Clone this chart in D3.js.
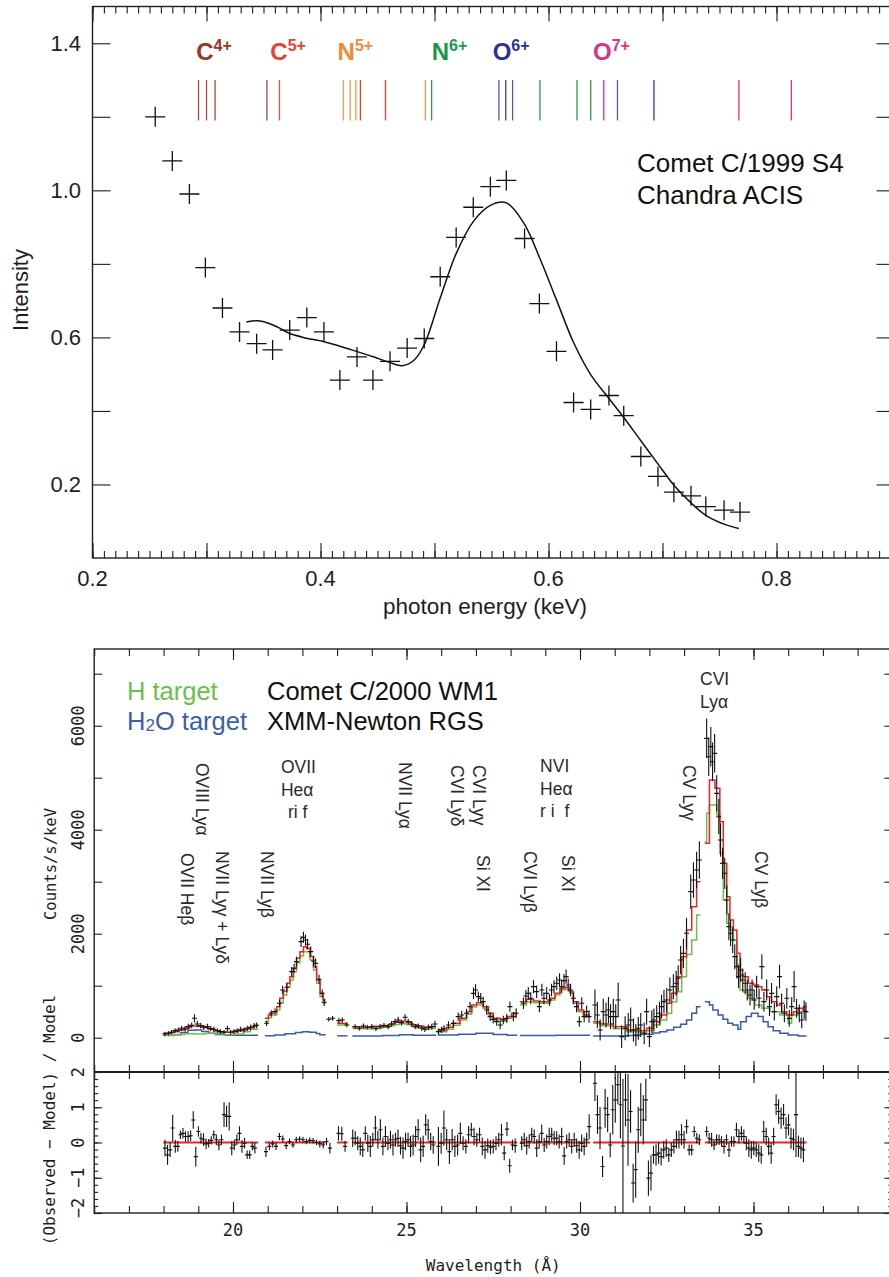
<!DOCTYPE html>
<html>
<head>
<meta charset="utf-8">
<script src="https://cdn.jsdelivr.net/npm/d3@7"></script>
<style>
  body { margin: 0; background: #fff; }
  svg { display: block; }
</style>
</head>
<body>
<div id="chart"></div>
<script>
// ---------- top panel: Chandra ACIS, comet C/1999 S4
const acisEnergy = [0.255, 0.270, 0.285, 0.299, 0.314, 0.329, 0.344, 0.358, 0.373, 0.388, 0.403, 0.417, 0.432, 0.446, 0.461, 0.476, 0.491, 0.505, 0.519, 0.534, 0.549, 0.563, 0.579, 0.592, 0.607, 0.622, 0.637, 0.653, 0.666, 0.681, 0.696, 0.710, 0.725, 0.738, 0.754, 0.768];
const acisIntensity = [1.20, 1.08, 0.99, 0.79, 0.68, 0.615, 0.583, 0.566, 0.62, 0.654, 0.615, 0.484, 0.547, 0.484, 0.535, 0.571, 0.597, 0.765, 0.872, 0.954, 1.01, 1.027, 0.869, 0.692, 0.562, 0.423, 0.404, 0.442, 0.387, 0.276, 0.222, 0.179, 0.169, 0.14, 0.13, 0.125];
const fitEnergy = [0.335, 0.345, 0.355, 0.365, 0.372, 0.385, 0.4025, 0.417, 0.4315, 0.4457, 0.4605, 0.4716, 0.482, 0.491, 0.505, 0.519, 0.534, 0.549, 0.563, 0.5785, 0.592, 0.607, 0.622, 0.637, 0.6525, 0.666, 0.681, 0.696, 0.71, 0.725, 0.738, 0.754, 0.767];
const fitIntensity = [0.642, 0.645, 0.638, 0.624, 0.612, 0.6, 0.589, 0.576, 0.562, 0.548, 0.532, 0.523, 0.538, 0.58, 0.707, 0.828, 0.915, 0.959, 0.966, 0.91, 0.818, 0.702, 0.586, 0.499, 0.436, 0.382, 0.319, 0.256, 0.198, 0.15, 0.116, 0.092, 0.08];

const ionNames = ["C", "C", "N", "N", "O", "O"];
const ionCharges = ["4+", "5+", "5+", "6+", "6+", "7+"];
const ionLabelEnergy = [0.291, 0.356, 0.415, 0.4975, 0.551, 0.639];
const ionColors = ["#9a3526", "#e8412f", "#ef8b33", "#18994a", "#2e3192", "#d8348d"];
const lineEnergy = [0.293, 0.300, 0.3075, 0.353, 0.364, 0.420, 0.426, 0.431, 0.435, 0.457, 0.492, 0.4975, 0.5565, 0.5625, 0.5685, 0.5925, 0.625, 0.637, 0.6485, 0.6605, 0.6925, 0.767, 0.813];
const lineColors = ["#a8493c", "#a8493c", "#a8493c", "#a8493c", "#e8503f", "#f29a45", "#f29a45", "#f29a45", "#e8412f", "#e8412f", "#f29a45", "#2c9a4e", "#6b4c9e", "#3b3a94", "#6b4c9e", "#2c9a4e", "#2c9a4e", "#3d8d4f", "#d8348d", "#6b4c9e", "#2b3593", "#d8348d", "#d8348d"];

// ---------- bottom panel: XMM-Newton RGS, comet C/2000 WM1  ([wavelength, counts/s/keV, error])
const rgs1 = [[18.04, 72, 40], [18.14, 84, 40], [18.23, 104, 45], [18.33, 136, 45], [18.42, 148, 50], [18.52, 180, 50], [18.62, 168, 50], [18.71, 212, 55], [18.81, 238, 55], [18.89, 373, 80], [18.97, 264, 60], [19.07, 232, 55], [19.16, 200, 50], [19.26, 212, 55], [19.36, 174, 50], [19.45, 161, 50], [19.55, 136, 45], [19.64, 116, 45], [19.74, 104, 45], [19.84, 174, 55], [19.93, 104, 45], [20.03, 123, 45], [20.12, 136, 45], [20.22, 161, 50], [20.32, 148, 50], [20.41, 180, 50], [20.51, 200, 55], [20.61, 225, 55], [20.68, 238, 55]];
const rgs2 = [[20.97, 277, 50], [21.10, 469, 60], [21.21, 501, 60], [21.34, 661, 70], [21.43, 918, 80], [21.55, 969, 80], [21.69, 1270, 90], [21.76, 1334, 90], [21.83, 1463, 95], [21.96, 1847, 105], [22.03, 1930, 105], [22.09, 1879, 105], [22.15, 1796, 100], [22.24, 1655, 100], [22.32, 1475, 95], [22.38, 1430, 95], [22.48, 1123, 85], [22.57, 854, 75], [22.63, 680, 70]];
const rgs3 = [[22.76, 354, 45], [22.87, 373, 45], [23.05, 328, 50], [23.15, 340, 50], [23.28, 245, 45]];
const rgs4 = [[23.52, 212, 45], [23.64, 180, 45], [23.76, 225, 50], [23.87, 200, 45], [24.0, 212, 50], [24.12, 174, 45], [24.24, 212, 50], [24.35, 232, 50], [24.47, 212, 50], [24.57, 264, 55], [24.67, 309, 55], [24.76, 341, 60], [24.86, 290, 55], [24.96, 392, 60], [25.05, 309, 55], [25.15, 264, 55], [25.25, 212, 50], [25.34, 225, 50], [25.44, 180, 50], [25.53, 161, 50], [25.63, 200, 55], [25.73, 212, 55], [25.82, 264, 60]];
const rgs5 = [[25.92, 116, 60], [26.01, 150, 60], [26.08, 180, 60], [26.21, 244, 70], [26.35, 276, 70], [26.49, 405, 80], [26.59, 437, 80], [26.73, 469, 85], [26.83, 597, 95], [26.93, 853, 110], [26.99, 917, 110], [27.07, 789, 100], [27.14, 757, 100], [27.21, 693, 95], [27.31, 533, 90], [27.41, 405, 85], [27.5, 353, 80], [27.6, 308, 80], [27.7, 244, 75], [27.79, 340, 80], [27.89, 372, 85], [27.98, 597, 100], [28.08, 405, 90], [28.16, 469, 95]];
const rgs6 = [[28.37, 661, 110], [28.44, 802, 115], [28.51, 853, 120], [28.58, 757, 115], [28.66, 981, 125], [28.75, 885, 120], [28.83, 597, 110], [28.90, 917, 120], [28.96, 757, 115], [29.04, 853, 120], [29.12, 725, 115], [29.18, 917, 120], [29.25, 981, 125], [29.33, 1046, 130], [29.41, 1110, 130], [29.47, 981, 125], [29.54, 1097, 130], [29.60, 1174, 135], [29.66, 1014, 125], [29.73, 917, 120], [29.81, 757, 115], [29.90, 597, 110], [29.98, 308, 100], [30.05, 661, 115], [30.12, 405, 110], [30.19, 501, 120], [30.26, 405, 120]];
const rgs7 = [[30.43, 629, 300], [30.50, 437, 250], [30.58, 148, 200], [30.67, 501, 250], [30.75, 437, 240], [30.82, 533, 250], [30.88, 405, 240], [30.96, 501, 250], [31.03, 405, 240], [31.10, 725, 330], [31.20, 20, 220], [31.30, 180, 230], [31.39, 244, 230], [31.46, 340, 240], [31.54, 148, 220], [31.61, 52, 210], [31.68, 180, 220], [31.75, 244, 230], [31.85, 84, 210], [31.92, 501, 250], [32.00, 20, 200], [32.07, 308, 220], [32.13, 340, 220], [32.21, 405, 220], [32.29, 469, 220], [32.35, 597, 230], [32.42, 693, 230], [32.50, 725, 230], [32.59, 917, 240], [32.69, 981, 240], [32.77, 1046, 240], [32.83, 1142, 250], [32.90, 1494, 270], [32.98, 1622, 280], [33.07, 2007, 300], [33.19, 2808, 330], [33.27, 3033, 340], [33.36, 3225, 350], [33.44, 3417, 360]];
const rgs8 = [[33.65, 5757, 380], [33.71, 5404, 370], [33.77, 5597, 380], [33.82, 5308, 370], [33.88, 5468, 370], [33.94, 4699, 350], [34.0, 4250, 340], [34.05, 3802, 320], [34.11, 3353, 300], [34.17, 3161, 300], [34.23, 2648, 280], [34.29, 2135, 260], [34.34, 2007, 250], [34.40, 1879, 250], [34.46, 1558, 240], [34.52, 1366, 230], [34.57, 1174, 220], [34.63, 1302, 230], [34.69, 1110, 220], [34.76, 1046, 210], [34.82, 917, 200], [34.90, 821, 200], [34.96, 917, 200], [35.02, 725, 190], [35.09, 981, 210], [35.16, 757, 190], [35.24, 1366, 240], [35.30, 693, 190], [35.38, 917, 200], [35.46, 597, 180], [35.52, 853, 200], [35.60, 501, 170], [35.67, 789, 200], [35.75, 1174, 230], [35.81, 661, 190], [35.89, 469, 170], [35.96, 757, 200], [36.03, 372, 160], [36.10, 597, 180], [36.17, 981, 300], [36.24, 565, 180], [36.32, 469, 170], [36.39, 340, 160], [36.46, 533, 180], [36.51, 501, 180]];

// model histograms per spectral segment: [bin start wavelength, counts/s/keV]
const modelTotal = [
  [[17.99, 84], [18.15, 100], [18.3, 120], [18.45, 150], [18.6, 185], [18.75, 225], [19.0, 215], [19.15, 195], [19.3, 165], [19.45, 135], [19.6, 115], [19.8, 103], [20.0, 115], [20.15, 135], [20.3, 160], [20.45, 195], [20.6, 232], [20.72, 232]],
  [[20.92, 373], [21.02, 437], [21.11, 501], [21.26, 597], [21.35, 757], [21.45, 886], [21.55, 1046], [21.64, 1174], [21.74, 1334], [21.83, 1527], [21.93, 1655], [22.03, 1751], [22.12, 1719], [22.22, 1559], [22.32, 1366], [22.41, 1110], [22.51, 854], [22.6, 725], [22.67, 725]],
  [[23.0, 277], [23.3, 277]],
  [[23.44, 212], [23.7, 205], [24.04, 220], [24.3, 235], [24.5, 264], [24.65, 295], [24.8, 315], [25.0, 290], [25.15, 250], [25.3, 225], [25.5, 200], [25.7, 210], [25.85, 210]],
  [[25.9, 148], [26.16, 199], [26.35, 276], [26.54, 372], [26.73, 500], [26.88, 629], [27.02, 674], [27.21, 597], [27.36, 469], [27.5, 372], [27.7, 353], [27.89, 405], [28.03, 469], [28.19, 469]],
  [[28.27, 693], [28.46, 738], [28.66, 706], [28.85, 693], [29.14, 757], [29.28, 853], [29.42, 949], [29.57, 968], [29.71, 885], [29.81, 693], [29.95, 533], [30.1, 437], [30.29, 437]],
  [[30.38, 308], [30.58, 264], [30.96, 212], [31.35, 148], [31.73, 135], [31.92, 180], [32.11, 308], [32.31, 437], [32.5, 661], [32.64, 853], [32.79, 1174], [32.93, 1558], [33.07, 2071], [33.22, 2520], [33.36, 3000], [33.47, 3000]],
  [[33.6, 3738], [33.73, 4956], [33.89, 4795], [34.03, 4154], [34.13, 3353], [34.23, 2712], [34.32, 2263], [34.42, 2071], [34.52, 1622], [34.61, 1206], [34.71, 1174], [34.85, 1046], [35.0, 1013], [35.14, 981], [35.24, 917], [35.38, 789], [35.52, 693], [35.67, 629], [35.81, 501], [35.96, 437], [36.15, 501], [36.29, 565], [36.44, 597], [36.53, 597]]
];
const modelHydrogen = [
  [[17.99, 40], [18.3, 60], [18.6, 75], [18.9, 70], [19.2, 85], [19.45, 75], [19.7, 55], [20.0, 70], [20.3, 115], [20.5, 160], [20.72, 160]],
  [[20.92, 309], [21.02, 385], [21.11, 437], [21.26, 533], [21.35, 674], [21.45, 822], [21.55, 969], [21.64, 1110], [21.74, 1270], [21.83, 1443], [21.93, 1571], [22.03, 1655], [22.12, 1655], [22.22, 1494], [22.32, 1302], [22.41, 1046], [22.51, 789], [22.6, 661], [22.67, 661]],
  [[23.0, 245], [23.3, 245]],
  [[23.44, 175], [23.7, 170], [24.04, 185], [24.3, 200], [24.5, 228], [24.65, 255], [24.8, 270], [25.0, 250], [25.15, 215], [25.3, 190], [25.5, 165], [25.7, 175], [25.85, 175]],
  [[25.9, 116], [26.16, 160], [26.35, 238], [26.54, 340], [26.73, 450], [26.88, 590], [27.02, 629], [27.21, 565], [27.36, 437], [27.5, 340], [27.7, 315], [27.89, 372], [28.03, 437], [28.19, 437]],
  [[28.27, 629], [28.46, 693], [28.66, 674], [28.85, 661], [29.14, 725], [29.28, 821], [29.42, 917], [29.57, 930], [29.71, 853], [29.81, 661], [29.95, 501], [30.1, 405], [30.29, 405]],
  [[30.38, 276], [30.58, 230], [30.96, 170], [31.35, 116], [31.73, 100], [31.92, 140], [32.11, 244], [32.31, 340], [32.5, 469], [32.64, 693], [32.79, 885], [32.93, 1174], [33.07, 1600], [33.22, 1878], [33.36, 2360], [33.47, 2360]],
  [[33.6, 3770], [33.65, 4315], [33.73, 4475], [33.94, 4283], [34.03, 3545], [34.13, 2648], [34.23, 2199], [34.32, 2071], [34.42, 1879], [34.52, 1400], [34.61, 917], [34.71, 880], [34.85, 760], [35.04, 629], [35.24, 565], [35.48, 501], [35.76, 437], [36.0, 276], [36.1, 437], [36.29, 501], [36.53, 501]]
];
const modelWater = [
  [[17.99, 45], [18.3, 55], [18.5, 100], [18.7, 145], [18.9, 150], [19.1, 120], [19.3, 85], [19.5, 60], [19.8, 45], [20.2, 45], [20.72, 45]],
  [[20.92, 35], [21.2, 50], [21.5, 75], [21.8, 100], [22.0, 115], [22.2, 105], [22.4, 80], [22.5, 55], [22.67, 55]],
  [[23.0, 35], [23.3, 35]],
  [[23.44, 33], [24.3, 40], [24.8, 55], [25.2, 45], [25.85, 45]],
  [[25.9, 50], [26.5, 65], [27.0, 85], [27.5, 60], [27.9, 45], [28.19, 45]],
  [[28.27, 40], [29.3, 45], [30.29, 45]],
  [[30.38, 30], [31.0, 30], [31.35, 40], [31.73, 65], [32.1, 90], [32.3, 116], [32.5, 150], [32.7, 200], [32.9, 260], [33.07, 340], [33.22, 469], [33.36, 597], [33.47, 597]],
  [[33.6, 693], [33.73, 629], [33.83, 533], [33.98, 437], [34.12, 353], [34.26, 276], [34.4, 244], [34.55, 161], [34.63, 308], [34.79, 405], [34.94, 469], [35.13, 405], [35.28, 308], [35.42, 212], [35.57, 135], [35.76, 84], [36.0, 52], [36.29, 33], [36.53, 33]]
];

// residuals (observed - model) / model, regular channels per segment
const resStart = [18.04, 20.95, 23.04, 23.45, 25.92, 28.32, 30.43, 33.65];
const resStep = [0.074, 0.097, 0.095, 0.0725, 0.079, 0.072, 0.0734, 0.0715];
const resValues = [
  [-0.16, -0.35, -0.21, 0.41, -0.11, -0.11, 0.22, 0.26, 0.17, 0.17, 0.19, 0.64, -0.40, 0.31, 0.12, 0.08, -0.04, -0.02, 0.06, 0.22, 0.08, -0.07, 0.08, 0.79, 0.74, 0.74, -0.16, -0.07, 0.08, 0.26, -0.11, -0.02, -0.35, -0.35, -0.11, -0.16],
  [-0.26, -0.11, -0.04, -0.11, 0.17, 0.10, -0.09, 0.03, -0.07, 0.08, 0.10, 0.08, 0.03, 0.06, 0.05, 0.00, -0.04, -0.07, 0.03, -0.16],
  [0.26, 0.25, -0.11],
  [0.12, 0.12, -0.02, -0.11, -0.21, 0.26, -0.02, -0.11, 0.08, 0.41, 0.08, 0.36, -0.11, 0.17, -0.02, 0.08, -0.07, 0.08, 0.12, -0.09, -0.16, 0.03, 0.08, -0.11, -0.07, 0.17, 0.36, -0.21, -0.11, 0.50, 0.36, 0.03, -0.07],
  [-0.11, -0.02, 0.41, 0.08, -0.26, 0.08, -0.11, -0.07, 0.26, -0.02, -0.11, 0.22, 0.36, 0.17, 0.08, 0.22, -0.11, -0.21, -0.09, -0.13, -0.11, -0.02, 0.08, 0.22, -0.30, 0.38, -0.66, -0.07, -0.09],
  [-0.02, 0.08, -0.09, 0.03, 0.22, 0.17, -0.16, 0.03, 0.26, -0.07, 0.03, 0.17, 0.22, 0.12, 0.12, 0.03, 0.17, -0.38, 0.03, 0.08, -0.11, 0.08, -0.09, -0.21, -0.02, -0.11, 0.08, 0.45],
  [1.68, 0.79, 0.41, -0.68, 0.97, 0.79, -0.07, 0.93, 1.21, 1.64, 1.07, -0.1, 1.21, 0.64, 0.88, -1.15, -0.77, 0.36, 0.93, 0.64, 1.21, -1.01, -0.87, -0.35, -0.35, -0.30, -0.40, -0.21, -0.16, -0.35, -0.21, -0.11, 0.08, 0.08, 0.22, 0.08, 0.45, -0.21, -0.21, 0.31, 0.12, 0.08],
  [0.31, 0.12, 0.08, -0.07, 0.08, 0.08, 0.03, -0.11, 0.08, -0.21, 0.03, 0.03, 0.36, 0.17, 0.26, 0.17, -0.02, -0.16, -0.21, -0.16, -0.21, -0.30, -0.35, 0.31, 0.17, -0.11, -0.30, 0.17, 1.07, 0.88, 0.69, 0.79, 0.41, 0.50, 0.12, 0.08, 0.79, -0.11, -0.16, -0.21]
];
const resErrors = [
  [0.24, 0.28, 0.2, 0.38, 0.18, 0.15, 0.12, 0.15, 0.15, 0.15, 0.15, 0.25, 0.28, 0.15, 0.15, 0.18, 0.15, 0.12, 0.12, 0.12, 0.15, 0.15, 0.15, 0.35, 0.3, 0.4, 0.2, 0.15, 0.15, 0.2, 0.18, 0.15, 0.12, 0.12, 0.12, 0.15],
  [0.15, 0.1, 0.1, 0.1, 0.1, 0.1, 0.1, 0.08, 0.08, 0.08, 0.08, 0.08, 0.08, 0.08, 0.08, 0.08, 0.1, 0.1, 0.1, 0.15],
  [0.2, 0.2, 0.15],
  [0.25, 0.2, 0.2, 0.25, 0.2, 0.2, 0.25, 0.3, 0.2, 0.35, 0.25, 0.3, 0.25, 0.3, 0.2, 0.25, 0.3, 0.2, 0.25, 0.25, 0.3, 0.25, 0.2, 0.3, 0.3, 0.3, 0.3, 0.35, 0.3, 0.3, 0.3, 0.25, 0.25],
  [0.55, 0.3, 0.5, 0.3, 0.35, 0.3, 0.3, 0.3, 0.3, 0.2, 0.2, 0.25, 0.2, 0.25, 0.2, 0.2, 0.25, 0.25, 0.2, 0.2, 0.2, 0.2, 0.2, 0.3, 0.2, 0.2, 0.2, 0.15, 0.2],
  [0.2, 0.2, 0.25, 0.2, 0.2, 0.2, 0.25, 0.2, 0.25, 0.2, 0.2, 0.25, 0.2, 0.2, 0.2, 0.2, 0.25, 0.25, 0.2, 0.2, 0.2, 0.2, 0.2, 0.25, 0.25, 0.25, 0.2, 0.35],
  [0.5, 0.55, 0.6, 0.3, 0.55, 0.5, 0.35, 0.7, 0.65, 0.55, 0.95, 1.9, 0.75, 1.3, 0.6, 0.55, 0.8, 0.65, 0.75, 0.7, 0.6, 0.5, 0.5, 0.25, 0.3, 0.3, 0.25, 0.25, 0.25, 0.2, 0.2, 0.2, 0.25, 0.25, 0.3, 0.25, 0.2, 0.15, 0.15, 0.15, 0.15, 0.15],
  [0.15, 0.15, 0.2, 0.15, 0.15, 0.15, 0.15, 0.2, 0.15, 0.2, 0.15, 0.15, 0.2, 0.2, 0.2, 0.2, 0.2, 0.25, 0.25, 0.2, 0.2, 0.25, 0.25, 0.3, 0.25, 0.25, 0.3, 0.25, 0.3, 0.35, 0.3, 0.3, 0.3, 0.3, 0.3, 0.3, 1.2, 0.3, 0.3, 0.35]
];

// line identifications (wavelength of the marked line)
const idText = ["OVIII Lyα", "OVII Heβ", "NVII Lyγ + Lyδ", "NVII Lyβ", "NVII Lyα", "CVI Lyγ", "CVI Lyδ", "Si XI", "CVI Lyβ", "Si XI", "CV Lyγ", "CV Lyβ"];
const idLambda = [19.05, 18.62, 19.63, 20.95, 24.90, 27.06, 26.40, 27.15, 28.53, 29.60, 33.11, 35.18];
const tripletText = [["OVII", "Heα", "ri f"], ["NVI", "Heα", "r i  f"], ["CVI", "Lyα"]];
const tripletLambda = [21.38, 28.85, 33.46];

// ---------- drawing
const W = 889, H = 1277;
const HELV = "'Liberation Sans', Arial, Helvetica, sans-serif";
const PG = "'DejaVu Sans Mono', monospace";
const INK = "#1e1e1e";

const svg = d3.select("#chart").append("svg")
    .attr("width", W)
    .attr("height", H);
svg.append("rect").attr("width", W).attr("height", H).attr("fill", "#fff");

function tickAxis(g, axisFn, scale, values, size, translate) {
    const a = g.append("g")
        .attr("transform", translate)
        .call(axisFn(scale).tickValues(values).tickSizeInner(-size).tickSizeOuter(0).tickFormat(""));
    a.select(".domain").remove();
    a.selectAll("line").attr("stroke", INK).attr("stroke-width", 1.1);
    return a;
}

// ===== top panel
const xE = d3.scaleLinear().domain([0.2, 0.9]).range([92.5, 890.5]);
const yI = d3.scaleLinear().domain([0, 1.5]).range([558, 6.5]);
const topG = svg.append("g");

const eMinor = d3.range(20, 91).map(i => i / 100);
const eMajor = d3.range(2, 10).map(i => i / 10);
const iMajor = d3.range(1, 8).map(i => i / 5);

tickAxis(topG, d3.axisBottom, xE, eMinor, 7, `translate(0,${yI(0)})`);
tickAxis(topG, d3.axisBottom, xE, eMajor, 15, `translate(0,${yI(0)})`);
tickAxis(topG, d3.axisTop, xE, eMinor, 7, `translate(0,${yI(1.5)})`);
tickAxis(topG, d3.axisTop, xE, eMajor, 15, `translate(0,${yI(1.5)})`);
tickAxis(topG, d3.axisLeft, yI, iMajor, 18, `translate(${xE(0.2)},0)`);
tickAxis(topG, d3.axisRight, yI, iMajor, 14, `translate(${xE(0.9)},0)`);

topG.append("rect")
    .attr("x", xE(0.2)).attr("y", yI(1.5))
    .attr("width", xE(0.9) - xE(0.2)).attr("height", yI(0) - yI(1.5))
    .attr("fill", "none").attr("stroke", INK).attr("stroke-width", 1.4);

topG.selectAll("text.xl").data([0.2, 0.4, 0.6, 0.8]).join("text")
    .attr("x", d => xE(d)).attr("y", 586)
    .attr("text-anchor", "middle").attr("font-family", HELV).attr("font-size", 22).attr("fill", INK)
    .text(d => d.toFixed(1));
topG.selectAll("text.yl").data([0.2, 0.6, 1.0, 1.4]).join("text")
    .attr("x", 81).attr("y", d => yI(d) + 8)
    .attr("text-anchor", "end").attr("font-family", HELV).attr("font-size", 22).attr("fill", INK)
    .text(d => d.toFixed(1));
topG.append("text")
    .attr("x", 485).attr("y", 614)
    .attr("text-anchor", "middle").attr("font-family", HELV).attr("font-size", 22.5).attr("fill", INK)
    .text("photon energy (keV)");
topG.append("text")
    .attr("transform", "translate(28,290) rotate(-90)")
    .attr("text-anchor", "middle").attr("font-family", HELV).attr("font-size", 22).attr("fill", INK)
    .text("Intensity");

topG.append("text").attr("x", 637).attr("y", 172)
    .attr("font-family", HELV).attr("font-size", 26).attr("fill", "#111").text("Comet C/1999 S4");
topG.append("text").attr("x", 637).attr("y", 204)
    .attr("font-family", HELV).attr("font-size", 26).attr("fill", "#111").text("Chandra ACIS");

// ion line markers
topG.selectAll("line.ion").data(lineEnergy).join("line")
    .attr("x1", d => xE(d)).attr("x2", d => xE(d))
    .attr("y1", yI(1.30)).attr("y2", yI(1.19))
    .attr("stroke", (d, i) => lineColors[i]).attr("stroke-width", 1.3);

topG.selectAll("text.ion").data(ionNames).join("text")
    .attr("x", (d, i) => xE(ionLabelEnergy[i])).attr("y", yI(1.355))
    .attr("font-family", HELV).attr("font-weight", "bold").attr("font-size", 24)
    .attr("fill", (d, i) => ionColors[i])
    .each(function(d, i) {
        const t = d3.select(this);
        t.append("tspan").text(d);
        t.append("tspan").attr("font-size", 16).attr("dy", -9).text(ionCharges[i]);
    });

// fit curve and data crosses
const fitLine = d3.line()
    .x((d, i) => xE(fitEnergy[i]))
    .y(d => yI(d))
    .curve(d3.curveCatmullRom);
topG.append("path")
    .datum(fitIntensity)
    .attr("d", fitLine)
    .attr("fill", "none").attr("stroke", "#111").attr("stroke-width", 1.5);

topG.selectAll("path.cross").data(acisIntensity).join("path")
    .attr("d", (d, i) => {
        const x = xE(acisEnergy[i]), y = yI(d);
        return `M${x - 10},${y}H${x + 10}M${x},${y - 10}V${y + 10}`;
    })
    .attr("stroke", "#111").attr("stroke-width", 1.3).attr("fill", "none");

// ===== bottom panel
const xW = d3.scaleLinear().domain([16, 39]).range([94.2, 892.3]);
const yC = d3.scaleLinear().domain([-660, 7475]).range([1072, 649]);
const yR = d3.scaleLinear().domain([-2, 2]).range([1213, 1072]);
const botG = svg.append("g");

const wMinor = d3.range(16, 40);
const wMajor = [20, 25, 30, 35];
const cTicks = d3.range(0, 7001, 1000);
const rMajor = [-2, -1, 0, 1, 2];
const rMinor = d3.range(-10, 11).map(i => i / 5);

tickAxis(botG, d3.axisTop, xW, wMinor, 7, `translate(0,${yC.range()[1]})`);
tickAxis(botG, d3.axisTop, xW, wMajor, 11, `translate(0,${yC.range()[1]})`);
tickAxis(botG, d3.axisBottom, xW, wMinor, 7, `translate(0,${yC.range()[0]})`);
tickAxis(botG, d3.axisBottom, xW, wMajor, 11, `translate(0,${yC.range()[0]})`);
tickAxis(botG, d3.axisTop, xW, wMinor, 7, `translate(0,${yR.range()[1]})`);
tickAxis(botG, d3.axisTop, xW, wMajor, 11, `translate(0,${yR.range()[1]})`);
tickAxis(botG, d3.axisBottom, xW, wMinor, 7, `translate(0,${yR.range()[0]})`);
tickAxis(botG, d3.axisBottom, xW, wMajor, 11, `translate(0,${yR.range()[0]})`);
tickAxis(botG, d3.axisLeft, yC, cTicks, 8, `translate(${xW(16)},0)`);
tickAxis(botG, d3.axisRight, yC, cTicks, 8, `translate(${xW(39)},0)`);
tickAxis(botG, d3.axisLeft, yR, rMinor, 4, `translate(${xW(16)},0)`);
tickAxis(botG, d3.axisLeft, yR, rMajor, 8, `translate(${xW(16)},0)`);
tickAxis(botG, d3.axisRight, yR, rMinor, 4, `translate(${xW(39)},0)`);
tickAxis(botG, d3.axisRight, yR, rMajor, 8, `translate(${xW(39)},0)`);

botG.append("rect")
    .attr("x", xW(16)).attr("y", yC.range()[1])
    .attr("width", xW(39) - xW(16)).attr("height", yR.range()[0] - yC.range()[1])
    .attr("fill", "none").attr("stroke", INK).attr("stroke-width", 1.4);
botG.append("line")
    .attr("x1", xW(16)).attr("x2", xW(39))
    .attr("y1", yR(2)).attr("y2", yR(2))
    .attr("stroke", INK).attr("stroke-width", 1.8);

// axis labels (PGPLOT style)
botG.selectAll("text.cl").data([0, 2000, 4000, 6000]).join("text")
    .attr("transform", d => `translate(84,${yC(d)}) rotate(-90)`)
    .attr("text-anchor", "middle").attr("font-family", PG).attr("font-size", 17).attr("fill", INK)
    .text(d => d);
botG.selectAll("text.rl").data(rMajor).join("text")
    .attr("transform", d => `translate(84,${yR(d) + (d === -2 ? -5 : 0)}) rotate(-90)`)
    .attr("text-anchor", "middle").attr("font-family", PG).attr("font-size", 17).attr("fill", INK)
    .text(d => d < 0 ? "\u2212" + (-d) : d);
botG.selectAll("text.wl").data(wMajor).join("text")
    .attr("x", d => xW(d)).attr("y", 1236)
    .attr("text-anchor", "middle").attr("font-family", PG).attr("font-size", 17).attr("fill", INK)
    .text(d => d);
botG.append("text")
    .attr("x", (xW(16) + xW(39)) / 2).attr("y", 1271)
    .attr("text-anchor", "middle").attr("font-family", PG).attr("font-size", 16).attr("fill", INK)
    .text("Wavelength (Å)");
botG.append("text")
    .attr("transform", "translate(56,864) rotate(-90)")
    .attr("text-anchor", "middle").attr("font-family", PG).attr("font-size", 15.5).attr("fill", INK)
    .text("Counts/s/keV");
botG.append("text")
    .attr("transform", "translate(55,1120) rotate(-90)")
    .attr("text-anchor", "middle").attr("font-family", PG).attr("font-size", 16).attr("fill", INK)
    .text("(Observed \u2212 Model) / Model");

// legend
const leg = botG.append("g").attr("font-family", HELV).attr("font-size", 25.5);
leg.append("text").attr("x", 127).attr("y", 700).attr("fill", "#6cc04a").text("H target");
const h2o = leg.append("text").attr("x", 127).attr("y", 730).attr("fill", "#3b5fae");
h2o.append("tspan").text("H");
h2o.append("tspan").attr("font-size", 17).attr("dy", 1).text("2");
h2o.append("tspan").attr("dy", -1).text("O target");
leg.append("text").attr("x", 267).attr("y", 700).attr("fill", "#111").text("Comet C/2000 WM1");
leg.append("text").attr("x", 267).attr("y", 730).attr("fill", "#111").text("XMM-Newton RGS");

// line identification labels
const idTop = [763, 853, 851, 851, 762, 765, 765, 855, 851, 855, 765, 851];
botG.selectAll("text.id").data(idText).join("text")
    .attr("transform", (d, i) => `translate(${xW(idLambda[i]) - 4.5},${idTop[i]}) rotate(90)`)
    .attr("font-family", HELV).attr("font-size", 17.5).attr("fill", "#2a2a2a")
    .style("white-space", "pre")
    .text(d => d);

const tripletBase = [[773, 796, 818], [772, 795, 817], [685, 708]];
const tripletIndent = [[0, 0, 7], [0, 0, 0], [0, 0]];
tripletText.forEach((lines, k) => {
    botG.selectAll(null).data(lines).join("text")
        .attr("x", (d, j) => xW(tripletLambda[k]) + tripletIndent[k][j])
        .attr("y", (d, j) => tripletBase[k][j])
        .attr("font-family", HELV).attr("font-size", 17.5).attr("fill", "#2a2a2a")
        .style("white-space", "pre")
        .text(d => d);
});

// model histograms
const stepLine = d3.line()
    .x(d => xW(d[0]))
    .y(d => yC(d[1]))
    .curve(d3.curveStepAfter);

function drawModel(segs, color) {
    botG.append("g").selectAll("path").data(segs).join("path")
        .attr("d", stepLine)
        .attr("fill", "none").attr("stroke", color).attr("stroke-width", 1.5);
}
drawModel(modelWater, "#3a5ba8");
drawModel(modelHydrogen, "#6abf4b");
drawModel(modelTotal, "#f22020");

// spectrum data with error bars
const rgsAll = [rgs1, rgs2, rgs3, rgs4, rgs5, rgs6, rgs7, rgs8].flat();
botG.append("g").selectAll("path").data(rgsAll).join("path")
    .attr("d", d => {
        const x = xW(d[0]), y = yC(d[1]);
        return `M${x - 2.5},${y}H${x + 2.5}M${x},${yC(d[1] - d[2])}V${yC(d[1] + d[2])}`;
    })
    .attr("stroke", "#111").attr("stroke-width", 1.1).attr("fill", "none");

// residual panel
svg.append("clipPath").attr("id", "resClip")
    .append("rect")
    .attr("x", xW(16)).attr("y", yR(2))
    .attr("width", xW(39) - xW(16)).attr("height", yR(-2) - yR(2));

const resG = botG.append("g").attr("clip-path", "url(#resClip)");
resG.selectAll("line.zero").data(modelTotal).join("line")
    .attr("x1", d => xW(d[0][0])).attr("x2", d => xW(d[d.length - 1][0]))
    .attr("y1", yR(0)).attr("y2", yR(0))
    .attr("stroke", "#f22020").attr("stroke-width", 2);

const resPoints = resValues.flatMap((vals, s) =>
    vals.map((v, i) => [resStart[s] + i * resStep[s], v, resErrors[s][i]]));
resG.selectAll("path.res").data(resPoints).join("path")
    .attr("d", d => {
        const x = xW(d[0]), y = yR(d[1]);
        return `M${x - 2},${y}H${x + 2}M${x},${yR(d[1] - d[2])}V${yR(d[1] + d[2])}`;
    })
    .attr("stroke", "#111").attr("stroke-width", 1.1).attr("fill", "none");
</script>
</body>
</html>
